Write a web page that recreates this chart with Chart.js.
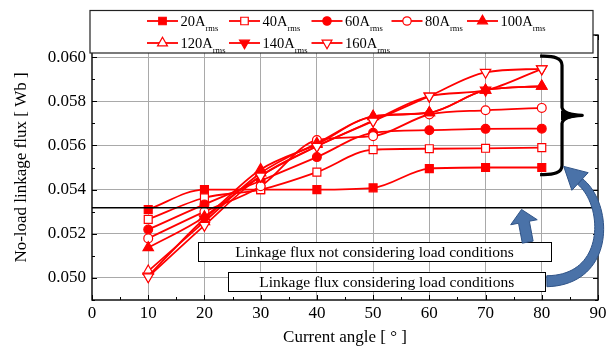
<!DOCTYPE html>
<html>
<head>
<meta charset="utf-8">
<script src="https://cdn.jsdelivr.net/npm/chart.js@4/dist/chart.umd.min.js"></script>
<style>
html,body{margin:0;padding:0;background:#fff;}
#c{display:block;}
</style>
</head>
<body>
<canvas id="c" width="615" height="350"></canvas>
<script>
// ---------------- data ----------------
const angles = [10, 20, 30, 40, 50, 60, 70, 80];
const currentLabels = ['20', '40', '60', '80', '100', '120', '140', '160'];
const flux20A  = [0.05310, 0.05400, 0.05400, 0.05400, 0.05408, 0.05495, 0.05500, 0.05500];
const flux40A  = [0.05265, 0.05363, 0.05400, 0.05479, 0.05581, 0.05585, 0.05587, 0.05590];
const flux60A  = [0.05219, 0.05333, 0.05440, 0.05547, 0.05657, 0.05669, 0.05675, 0.05676];
const flux80A  = [0.05179, 0.05300, 0.05415, 0.05624, 0.05642, 0.05740, 0.05759, 0.05770];
const flux100A = [0.05137, 0.05277, 0.05491, 0.05605, 0.05732, 0.05748, 0.05850, 0.05868];
const flux120A = [0.05031, 0.05255, 0.05475, 0.05610, 0.05730, 0.05748, 0.05850, 0.05868];
const flux140A = [0.05008, 0.05268, 0.05461, 0.05596, 0.05712, 0.05823, 0.05850, 0.05947];
const flux160A = [0.05005, 0.05238, 0.05461, 0.05596, 0.05710, 0.05823, 0.05931, 0.05947];
const refFlux = 0.05318;   // linkage flux not considering load conditions
const seriesValues = [flux20A, flux40A, flux60A, flux80A, flux100A, flux120A, flux140A, flux160A];

// ---------------- styles ----------------
const RED = '#ff0000';
const SERIF = "'Liberation Serif', 'Times New Roman', serif";
const markerShape = ['rect', 'rect', 'circle', 'circle', 'triangle', 'triangle', 'triangle', 'triangle'];
const markerFilled = [true, false, true, false, true, false, true, false];
const markerRot = [0, 0, 0, 0, 0, 0, 180, 180];
const markerRadius = { rect: 5.6, circle: 4.4, triangle: 6 };
const drawOrder = [8, 7, 6, 5, 3.5, 4, 2, 1];   // lower = drawn on top

// annotations (data coordinates)
const noteBoxes = [
  { text: 'Linkage flux not considering load conditions', x0: 18.9, x1: 81.6, y0: 0.05162, y1: 0.05076 },
  { text: 'Linkage flux considering load conditions', x0: 24.25, x1: 80.6, y0: 0.05028, y1: 0.04940 }
];
const brace = { xStart: 79.7, xSpine: 83.6, xTip: 87.2, yTop: 0.06004, yBottom: 0.05468 };
const smallArrow = { tail: [77.5, 0.05162], tip: [76.4, 0.05310] };
const curvedArrow = { p0: [80.9, 0.04985], p1: [92.3, 0.04990], p2: [91.9, 0.053326], p3: [86.8, 0.054367], tip: [83.9, 0.05505] };

const datasets = [{
  label: 'ref',
  data: [{ x: 0, y: refFlux }, { x: 90, y: refFlux }],
  borderColor: '#000', borderWidth: 1.6, pointRadius: 0, tension: 0, order: 0
}];
seriesValues.forEach((vals, i) => {
  datasets.push({
    label: currentLabels[i] + 'A',
    data: angles.map((a, k) => ({ x: a, y: vals[k] })),
    borderColor: RED,
    borderWidth: 1.8,
    cubicInterpolationMode: 'monotone',
    pointStyle: markerShape[i],
    pointRotation: markerRot[i],
    pointRadius: markerRadius[markerShape[i]],
    pointBackgroundColor: markerFilled[i] ? RED : '#ffffff',
    pointBorderColor: RED,
    pointBorderWidth: 1.2,
    order: drawOrder[i]
  });
});

function drawMarker(ctx, shape, rot, r, x, y, filled) {
  ctx.save();
  ctx.beginPath();
  if (shape === 'rect') {
    const s = Math.SQRT1_2 * r;
    ctx.rect(x - s, y - s, 2 * s, 2 * s);
  } else if (shape === 'circle') {
    ctx.arc(x, y, r, 0, Math.PI * 2);
  } else {
    let a = rot * Math.PI / 180;
    ctx.moveTo(x + Math.sin(a) * r, y - Math.cos(a) * r);
    a += 2 * Math.PI / 3;
    ctx.lineTo(x + Math.sin(a) * r, y - Math.cos(a) * r);
    a += 2 * Math.PI / 3;
    ctx.lineTo(x + Math.sin(a) * r, y - Math.cos(a) * r);
    ctx.closePath();
  }
  ctx.fillStyle = filled ? RED : '#fff';
  ctx.fill();
  ctx.lineWidth = 1.2;
  ctx.strokeStyle = RED;
  ctx.stroke();
  ctx.restore();
}

function blockArrow(ctx, x0, y0, x1, y1, sw, hw, hl) {
  const dx = x1 - x0, dy = y1 - y0, L = Math.hypot(dx, dy);
  const ux = dx / L, uy = dy / L, nx = -uy, ny = ux;
  const bx = x1 - ux * hl, by = y1 - uy * hl;
  ctx.beginPath();
  ctx.moveTo(x0 + nx * sw / 2, y0 + ny * sw / 2);
  ctx.lineTo(bx + nx * sw / 2, by + ny * sw / 2);
  ctx.lineTo(bx + nx * hw / 2, by + ny * hw / 2);
  ctx.lineTo(x1, y1);
  ctx.lineTo(bx - nx * hw / 2, by - ny * hw / 2);
  ctx.lineTo(bx - nx * sw / 2, by - ny * sw / 2);
  ctx.lineTo(x0 - nx * sw / 2, y0 - ny * sw / 2);
  ctx.closePath();
}

const decor = {
  id: 'decor',
  afterDraw(chart) {
    const ctx = chart.ctx;
    const xs = chart.scales.x, ys = chart.scales.y;
    const X = v => xs.getPixelForValue(v), Y = v => ys.getPixelForValue(v);
    const a = chart.chartArea;
    ctx.save();

    // frame
    ctx.strokeStyle = '#000';
    ctx.lineWidth = 1.4;
    ctx.strokeRect(a.left, a.top, a.right - a.left, a.bottom - a.top);
    // inward ticks
    ctx.lineWidth = 1;
    ctx.beginPath();
    for (let k = 49; k <= 61; k++) {
      const y = Math.round(Y(k / 1000)) + 0.5;
      const len = k % 2 === 0 ? 5 : 3;
      ctx.moveTo(a.left, y); ctx.lineTo(a.left + len, y);
      ctx.moveTo(a.right, y); ctx.lineTo(a.right - len, y);
    }
    for (let v = 0; v <= 90; v += 5) {
      const x = Math.round(X(v)) + 0.5;
      const len = v % 10 === 0 ? 5 : 3;
      ctx.moveTo(x, a.bottom); ctx.lineTo(x, a.bottom - len);
      ctx.moveTo(x, a.top); ctx.lineTo(x, a.top + len);
    }
    ctx.stroke();

    // legend box
    ctx.fillStyle = '#fff';
    ctx.fillRect(90, 10.5, 503, 42.5);
    ctx.strokeStyle = '#222';
    ctx.lineWidth = 1.2;
    ctx.strokeRect(90, 10.5, 503, 42.5);
    const colX = [147, 229, 311.5, 391.5, 467];
    const rowY = [21, 43];
    for (let i = 0; i < currentLabels.length; i++) {
      const cx = colX[i % 5], cy = rowY[i < 5 ? 0 : 1];
      ctx.strokeStyle = RED; ctx.lineWidth = 1.8;
      ctx.beginPath(); ctx.moveTo(cx, cy); ctx.lineTo(cx + 31, cy); ctx.stroke();
      drawMarker(ctx, markerShape[i], markerRot[i], markerRadius[markerShape[i]] * 0.95, cx + 15.5, cy, markerFilled[i]);
      ctx.fillStyle = '#000';
      ctx.textBaseline = 'alphabetic';
      ctx.textAlign = 'left';
      ctx.font = '14.5px ' + SERIF;
      const main = currentLabels[i] + 'A';
      ctx.fillText(main, cx + 33.5, cy + 5);
      const w = ctx.measureText(main).width;
      ctx.font = '8.5px ' + SERIF;
      ctx.fillText('rms', cx + 33.5 + w, cy + 10);
    }

    // note boxes
    noteBoxes.forEach(b => {
      const x0 = X(b.x0), x1 = X(b.x1), y0 = Y(b.y0), y1 = Y(b.y1);
      ctx.fillStyle = '#fff';
      ctx.fillRect(x0, y0, x1 - x0, y1 - y0);
      ctx.strokeStyle = '#000'; ctx.lineWidth = 1;
      ctx.strokeRect(Math.round(x0) + 0.5, Math.round(y0) + 0.5, Math.round(x1 - x0), Math.round(y1 - y0));
      ctx.fillStyle = '#000';
      ctx.font = '15.5px ' + SERIF;
      ctx.textAlign = 'center';
      ctx.textBaseline = 'middle';
      ctx.fillText(b.text, (x0 + x1) / 2, (y0 + y1) / 2 + 1);
    });

    // brace
    {
      const xS = X(brace.xStart), xM = X(brace.xSpine), xT = X(brace.xTip);
      const yT = Y(brace.yTop), yB = Y(brace.yBottom), yM = (yT + yB) / 2;
      ctx.strokeStyle = '#000'; ctx.lineWidth = 3.2; ctx.lineJoin = 'round';
      ctx.beginPath();
      ctx.moveTo(xS, yT);
      ctx.quadraticCurveTo(xM, yT - 1, xM, yT + 9);
      ctx.lineTo(xM, yM - 8);
      ctx.quadraticCurveTo(xM + 1, yM - 1, xT, yM);
      ctx.quadraticCurveTo(xM + 1, yM + 1, xM, yM + 8);
      ctx.lineTo(xM, yB - 9);
      ctx.quadraticCurveTo(xM, yB + 1, xS, yB);
      ctx.stroke();
      ctx.beginPath();
      ctx.moveTo(xM - 1, yM - 5); ctx.lineTo(xT, yM); ctx.lineTo(xM - 1, yM + 5); ctx.closePath();
      ctx.fillStyle = '#000'; ctx.fill();
    }

    const FILL = '#4a72a8', EDGE = '#2f5387';
    // small straight arrow
    blockArrow(ctx, X(smallArrow.tail[0]), Y(smallArrow.tail[1]), X(smallArrow.tip[0]), Y(smallArrow.tip[1]), 11, 27, 13);
    ctx.fillStyle = FILL; ctx.fill();
    ctx.strokeStyle = EDGE; ctx.lineWidth = 1; ctx.stroke();

    // curved arrow
    {
      const P = p => [X(p[0]), Y(p[1])];
      const p0 = P(curvedArrow.p0), p1 = P(curvedArrow.p1), p2 = P(curvedArrow.p2), p3 = P(curvedArrow.p3), tip = P(curvedArrow.tip);
      const bez = (t, i) => { const u = 1 - t; return u*u*u*p0[i] + 3*u*u*t*p1[i] + 3*u*t*t*p2[i] + t*t*t*p3[i]; };
      const der = (t, i) => { const u = 1 - t; return 3*u*u*(p1[i]-p0[i]) + 6*u*t*(p2[i]-p1[i]) + 3*t*t*(p3[i]-p2[i]); };
      const left = [], right = [];
      const N = 40;
      for (let k = 0; k <= N; k++) {
        const t = k / N;
        const x = bez(t, 0), y = bez(t, 1);
        const dx = der(t, 0), dy = der(t, 1), L = Math.hypot(dx, dy) || 1;
        const nx = -dy / L, ny = dx / L;
        const hw = 5.5 - 1.8 * t;
        left.push([x + nx * hw, y + ny * hw]);
        right.push([x - nx * hw, y - ny * hw]);
      }
      ctx.beginPath();
      ctx.moveTo(left[0][0], left[0][1]);
      left.forEach(p => ctx.lineTo(p[0], p[1]));
      for (let k = right.length - 1; k >= 0; k--) ctx.lineTo(right[k][0], right[k][1]);
      ctx.closePath();
      ctx.fillStyle = FILL; ctx.fill();
      ctx.strokeStyle = EDGE; ctx.lineWidth = 1; ctx.stroke();
      // head
      const dx = tip[0] - p3[0], dy = tip[1] - p3[1], L = Math.hypot(dx, dy);
      const nx = -dy / L, ny = dx / L, hw = 12;
      ctx.beginPath();
      ctx.moveTo(p3[0] + nx * hw, p3[1] + ny * hw);
      ctx.lineTo(tip[0], tip[1]);
      ctx.lineTo(p3[0] - nx * hw, p3[1] - ny * hw);
      ctx.closePath();
      ctx.fillStyle = FILL; ctx.fill();
      ctx.strokeStyle = EDGE; ctx.stroke();
    }
    ctx.restore();
  }
};

const GRID = '#a9a9a9';
new Chart(document.getElementById('c').getContext('2d'), {
  type: 'line',
  data: { datasets },
  options: {
    responsive: false,
    animation: false,
    devicePixelRatio: 1,
    layout: { padding: { top: 35, right: 17, left: 0, bottom: 0 } },
    plugins: { legend: { display: false }, tooltip: { enabled: false } },
    elements: { line: { fill: false } },
    scales: {
      x: {
        type: 'linear', min: 0, max: 90,
        afterFit: s => { s.height = 50; },
        ticks: {
          stepSize: 5, autoSkip: false, maxRotation: 0, minRotation: 0, padding: 3,
          color: '#000', font: { family: SERIF, size: 17 },
          callback: v => (Math.round(v) % 10 === 0 ? String(Math.round(v)) : '')
        },
        grid: {
          drawTicks: false, lineWidth: 1,
          color: c => (c.tick && Math.round(c.tick.value) % 10 === 0 && c.tick.value > 0 && c.tick.value < 90) ? GRID : 'rgba(0,0,0,0)'
        },
        border: { display: false },
        title: { display: true, text: 'Current angle [ ° ]', color: '#000', font: { family: SERIF, size: 17, lineHeight: 1.2 }, padding: { top: 0, bottom: 2 } }
      },
      y: {
        type: 'linear', min: 0.049, max: 0.061,
        afterFit: s => { s.width = 92; },
        ticks: {
          stepSize: 0.001, autoSkip: false, padding: 6,
          color: '#000', font: { family: SERIF, size: 17 },
          callback: v => { const k = Math.round(v * 1000); return k % 2 === 0 ? (k / 1000).toFixed(3) : ''; }
        },
        grid: {
          drawTicks: false, lineWidth: 1,
          color: c => { if (!c.tick) return 'rgba(0,0,0,0)'; const k = Math.round(c.tick.value * 1000); return (k % 2 === 0 && k > 49 && k < 61) ? GRID : 'rgba(0,0,0,0)'; }
        },
        border: { display: false },
        title: { display: true, text: 'No-load linkage flux [ Wb ]', color: '#000', font: { family: SERIF, size: 17, lineHeight: 1.2 }, padding: { top: 11, bottom: 0 } }
      }
    }
  },
  plugins: [decor]
});
</script>
</body>
</html>
